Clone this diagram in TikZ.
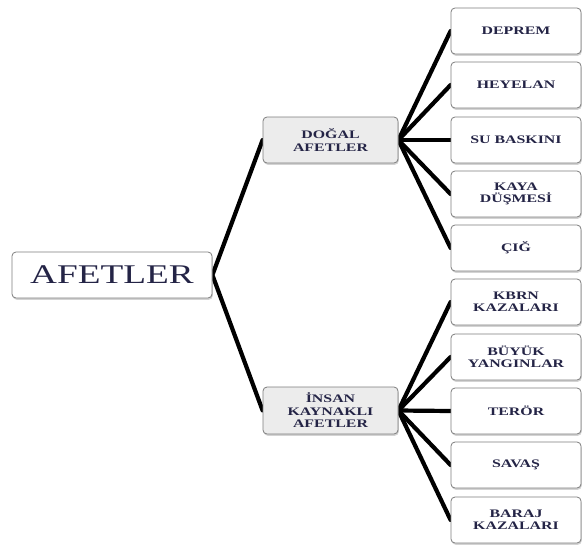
\documentclass[tikz,border=0pt]{standalone}
\usepackage{fontspec}
\setmainfont{Liberation Serif}[FakeStretch=1.38]
\usepackage{tikz}
\usetikzlibrary{positioning, shadows, backgrounds}
\definecolor{labeltext}{RGB}{36,36,70}
\definecolor{boxline}{RGB}{125,125,125}
\definecolor{groupfill}{RGB}{236,236,236}

\begin{document}
\begin{tikzpicture}[
    x=1pt, y=-1pt,
    every node/.style={draw=boxline, line width=0.8pt, rounded corners=4pt, align=center,
      inner sep=0pt, text=labeltext,
      drop shadow={shadow xshift=0.8pt, shadow yshift=-1.8pt, opacity=0.35}},
    root/.style={fill=white, minimum width=200pt, minimum height=46pt,
      font=\fontsize{27}{30}\selectfont},
    group/.style={fill=groupfill, minimum width=135pt, minimum height=46pt,
      font=\bfseries\fontsize{11.5}{12.5}\selectfont},
    leaf/.style={fill=white, minimum width=130pt, minimum height=46pt,
      font=\bfseries\fontsize{11.5}{12}\selectfont},
    branch/.style={line width=4.2pt, line cap=round, line join=miter}
]
\useasboundingbox (0,0) rectangle (582,547);

% Nodes
\node[root] (afetler) at (112,275) {AFETLER};
\node[group] (dogal) at (330.5,140) {DOĞAL\\AFETLER};
\node[group, minimum height=47pt] (insan) at (330.5,410.5) {İNSAN\\KAYNAKLI\\AFETLER};

\node[leaf] (deprem)   at (516,31)  {DEPREM};
\node[leaf] (heyelan)  at (516,85)  {HEYELAN};
\node[leaf] (subaskin) at (516,140) {SU BASKINI};
\node[leaf] (kaya)     at (516,194) {KAYA\\DÜŞMESİ};
\node[leaf] (cig)      at (516,248) {ÇIĞ};

\node[leaf] (kbrn)     at (516,302) {KBRN\\KAZALARI};
\node[leaf] (yangin)   at (516,357) {BÜYÜK\\YANGINLAR};
\node[leaf] (teror)    at (516,411) {TERÖR};
\node[leaf] (savas)    at (516,465) {SAVAŞ};
\node[leaf] (baraj)    at (516,520) {BARAJ\\KAZALARI};

% Branches
\begin{scope}[on background layer]
\draw[branch] (dogal.west) -- (afetler.east) -- (insan.west);
\foreach \leafname in {deprem, heyelan, subaskin, kaya, cig}
  \draw[branch] (dogal.east) -- (\leafname.west);
\foreach \leafname in {kbrn, yangin, teror, savas, baraj}
  \draw[branch] (insan.east) -- (\leafname.west);
\end{scope}

\end{tikzpicture}
\end{document}
